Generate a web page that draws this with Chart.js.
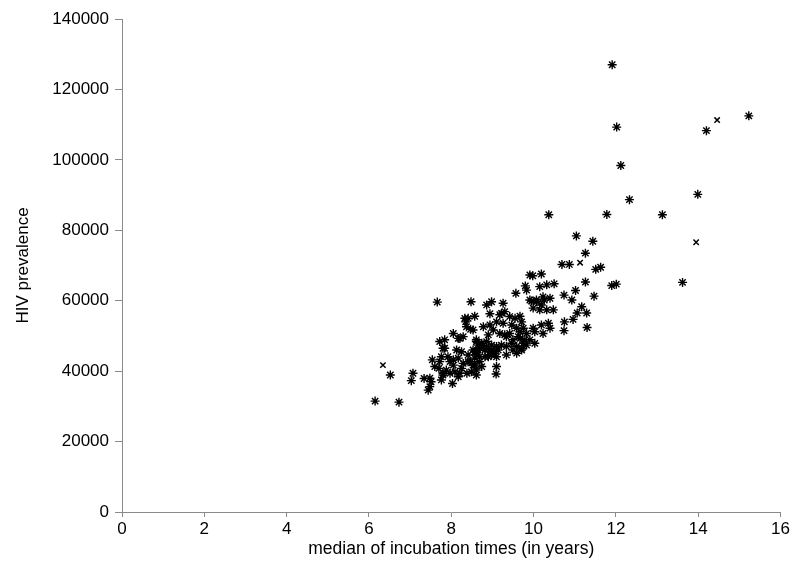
<!DOCTYPE html>
<html>
<head>
<meta charset="utf-8">
<script src="https://cdn.jsdelivr.net/npm/chart.js@4/dist/chart.umd.min.js"></script>
<style>
  html, body { margin: 0; padding: 0; background: #fff; }
  #wrap { width: 793px; height: 561px; position: relative; }
</style>
</head>
<body>
<div id="wrap"><canvas id="c" width="793" height="561"></canvas></div>
<script>
// Median incubation time (years) and HIV prevalence, star markers
const starX = [
  11.91,12.02,15.23,14.20,12.12,13.99,12.33,10.37,11.78,13.13,11.04,11.44,11.26,10.69,10.87,11.51,11.63,11.26,13.62,11.90,
  12.01,11.47,11.17,11.29,11.06,10.96,10.75,10.74,11.30,10.93,10.74,10.50,11.02,10.19,9.98,9.91,9.80,9.83,9.57,10.15,
  10.32,10.07,10.23,10.40,9.91,10.19,9.99,10.15,10.32,10.48,10.36,10.19,9.99,10.03,10.23,10.40,10.26,10.07,9.95,
  7.66,8.48,8.98,8.86,9.26,9.30,9.18,8.94,8.57,8.33,9.22,9.42,9.55,9.67,9.71,9.47,9.26,9.10,8.94,8.78,
  8.53,8.35,8.41,8.37,8.47,9.59,9.67,9.63,9.50,9.79,9.42,9.30,9.18,9.02,8.90,9.75,9.83,9.34,9.67,9.91,
  10.03,9.83,9.71,9.59,9.50,9.34,9.22,9.14,9.02,8.90,8.78,8.65,8.53,8.61,8.82,8.98,9.10,8.69,8.53,8.74,
  9.10,8.61,8.61,8.74,8.86,8.98,8.69,8.82,8.94,8.57,8.69,8.90,9.02,9.10,9.59,9.75,9.71,9.34,9.47,8.05,
  8.17,8.29,8.21,8.13,8.25,7.72,7.84,7.80,7.84,8.41,8.57,8.61,8.65,8.61,
  6.52,6.15,6.73,7.07,7.03,7.34,7.48,7.51,7.48,7.44,7.54,7.60,7.72,7.70,7.76,7.80,7.88,7.97,8.05,8.09,
  8.17,8.21,8.25,8.03,8.45,8.57,8.49,8.38,7.92,8.05,8.17,8.29,8.41,7.97,7.80,7.76,8.61,9.09
];
const starY = [
  127000,109300,112500,108300,98400,90200,88700,84400,84500,84400,78400,76900,73500,70300,70300,68900,69500,65300,65200,64300,
  64700,61300,58300,56500,56500,54700,54000,51500,52400,60200,61600,64800,62900,67600,67100,67300,64200,63000,62100,64000,
  64500,59700,61100,60700,60200,58800,57900,57400,57400,57400,53600,53100,52200,51200,50700,52200,60200,60200,59900,
  59600,59700,59700,58800,59300,56900,56000,56300,55600,55000,56400,55500,55000,55600,54000,53100,53600,54000,53100,52600,
  51700,54000,55000,52600,51900,52200,51200,49800,48900,48900,50700,50300,50700,51700,50300,52200,50700,49800,49300,48900,
  47900,47400,46500,47000,46000,47000,47400,46000,45500,46500,47400,46000,46000,44600,44100,44600,44100,42700,41700,41300,
  41300,38900,48400,47900,48400,47400,46500,46000,45500,45500,44100,44100,45100,47000,45100,47900,46000,44600,47900,50700,
  49300,49800,49300,46000,45500,48400,46500,46500,48900,44600,43700,45500,47400,48900,
  38900,31500,31200,39400,37300,37900,38000,37000,35600,34600,43200,41300,42700,40800,44100,39400,40300,42700,41700,39800,
  38400,39400,40800,36500,42700,41700,39800,39400,44100,43200,43700,42200,42700,39400,38900,37500,40300,39200
];
// points drawn with an "x" marker
const crossX = [6.34, 11.13, 13.95, 14.46];
const crossY = [41700, 70800, 76600, 111300];

const xTicksMin = 0, xTicksMax = 16, xStep = 2;
const yTicksMin = 0, yTicksMax = 140000, yStep = 20000;
const xTitle = 'median of incubation times (in years)';
const yTitle = 'HIV prevalence';

const toPts = (xs, ys) => xs.map((x, i) => ({ x: x, y: ys[i] }));

const FONT = 'Liberation Sans, Arial, Helvetica, sans-serif';
const AXIS_COLOR = '#8a8a8a';

new Chart(document.getElementById('c'), {
  type: 'scatter',
  data: {
    datasets: [
      {
        data: toPts(starX, starY),
        pointStyle: 'star',
        radius: 4.5,
        borderColor: '#000',
        backgroundColor: '#000',
        borderWidth: 1.4
      },
      {
        data: toPts(crossX, crossY),
        pointStyle: 'crossRot',
        radius: 3.8,
        borderColor: '#000',
        backgroundColor: '#000',
        borderWidth: 1.5
      }
    ]
  },
  options: {
    responsive: false,
    animation: false,
    devicePixelRatio: 1,
    layout: { padding: { left: 0, top: 19, right: 12.5, bottom: 0 } },
    plugins: { legend: { display: false }, tooltip: { enabled: false } },
    scales: {
      x: {
        type: 'linear',
        min: xTicksMin, max: xTicksMax,
        afterFit: (s) => { s.height = 49; },
        ticks: { stepSize: xStep, color: '#000', padding: 2, font: { family: FONT, size: 17 } },
        grid: { drawOnChartArea: false, drawTicks: true, tickLength: 5, color: AXIS_COLOR, lineWidth: 1 },
        border: { color: AXIS_COLOR, width: 1 },
        title: { display: true, text: xTitle, color: '#000', font: { family: FONT, size: 17.5 }, padding: { top: 0, bottom: 1 } }
      },
      y: {
        type: 'linear',
        min: yTicksMin, max: yTicksMax,
        afterFit: (s) => { s.width = 122; },
        ticks: { stepSize: yStep, color: '#000', padding: 6, font: { family: FONT, size: 17 },
                 callback: (v) => String(v) },
        grid: { drawOnChartArea: false, drawTicks: true, tickLength: 7, color: AXIS_COLOR, lineWidth: 1 },
        border: { color: AXIS_COLOR, width: 1 },
        title: { display: true, text: yTitle, color: '#000', font: { family: FONT, size: 17 }, padding: { top: 13, bottom: 0 } }
      }
    }
  }
});
</script>
</body>
</html>
